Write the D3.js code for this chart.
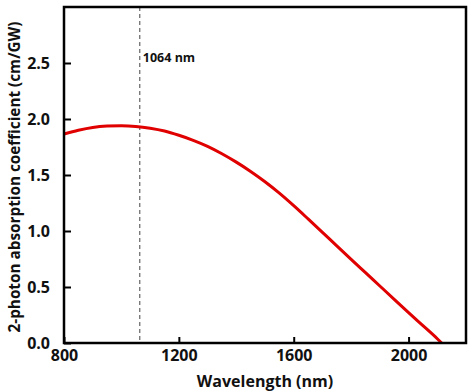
<!DOCTYPE html>
<html><head><meta charset="utf-8">
<script src="https://cdn.jsdelivr.net/npm/d3@7"></script>
<style>body{margin:0;background:#fff}svg{display:block}</style>
</head><body>
<svg id="c" width="474" height="392"></svg>
<script>
const wavelength = [800,850,900,950,1000,1050,1100,1150,1200,1250,1300,1350,1400,1450,1500,1550,1600,1650,1700,1750,1800,1850,1900,1950,2000,2050,2100,2115];
const beta = [1.866,1.900,1.925,1.937,1.940,1.934,1.918,1.893,1.855,1.810,1.756,1.690,1.615,1.532,1.440,1.338,1.226,1.108,0.988,0.867,0.747,0.628,0.509,0.390,0.272,0.155,0.038,0.0];
const xTicks = [800,1200,1600,2000];
const yTicks = [0,0.5,1.0,1.5,2.0,2.5];
const markerWL = 1064;
const markerLabel = "1064 nm";
const xTitle = "Wavelength (nm)";
const yTitle = "2-photon absorption coefficient (cm/GW)";

const svg = d3.select("#c");
const L=64, R=466, T=7, B=343;
const x = d3.scaleLinear().domain([800,2200]).range([L,R]);
const y = d3.scaleLinear().domain([0,3]).range([B,T]);
const font = "'Open Sans', Arial, sans-serif";

// dashed marker
svg.append("line").attr("x1",x(markerWL)).attr("x2",x(markerWL)).attr("y1",T).attr("y2",B)
  .attr("stroke","#444").attr("stroke-width",1).attr("stroke-dasharray","4,3");
svg.append("text").attr("x",x(markerWL)+3).attr("y",62).text(markerLabel)
  .attr("font-family",font).attr("font-weight","bold").attr("font-size",12.5).attr("fill","#111");

// curve
svg.append("path").datum(wavelength.map((w,i)=>[w,beta[i]]))
  .attr("d",d3.line().x(d=>x(d[0])).y(d=>y(d[1])).curve(d3.curveMonotoneX))
  .attr("fill","none").attr("stroke","#e00000").attr("stroke-width",3);

// axes
const ya = svg.append("g").attr("transform",`translate(${L},0)`)
  .call(d3.axisLeft(y).tickValues(yTicks).tickFormat(d3.format(".1f")).tickSizeInner(-7).tickSizeOuter(0).tickPadding(14));
const xa = svg.append("g").attr("transform",`translate(0,${B})`)
  .call(d3.axisBottom(x).tickValues(xTicks).tickFormat(d3.format("d")).tickSizeInner(-6).tickSizeOuter(0).tickPadding(7));
[ya,xa].forEach(g=>{
  g.select(".domain").remove();
  g.selectAll(".tick line").attr("stroke","#000").attr("stroke-width",2);
  g.selectAll(".tick text").attr("font-family",font).attr("font-weight","bold").attr("font-size",16).attr("fill","#111");
});

// frame
svg.append("rect").attr("x",L).attr("y",T).attr("width",R-L).attr("height",B-T)
  .attr("fill","none").attr("stroke","#000").attr("stroke-width",2.5);

// titles
svg.append("text").attr("x",(L+R)/2).attr("y",387).attr("text-anchor","middle").text(xTitle)
  .attr("font-family",font).attr("font-weight","bold").attr("font-size",16).attr("fill","#111");
svg.append("text").attr("transform",`translate(20,177) rotate(-90)`).attr("text-anchor","middle").text(yTitle)
  .attr("font-family",font).attr("font-weight","bold").attr("font-size",15.3).attr("fill","#111");
</script>
</body></html>
